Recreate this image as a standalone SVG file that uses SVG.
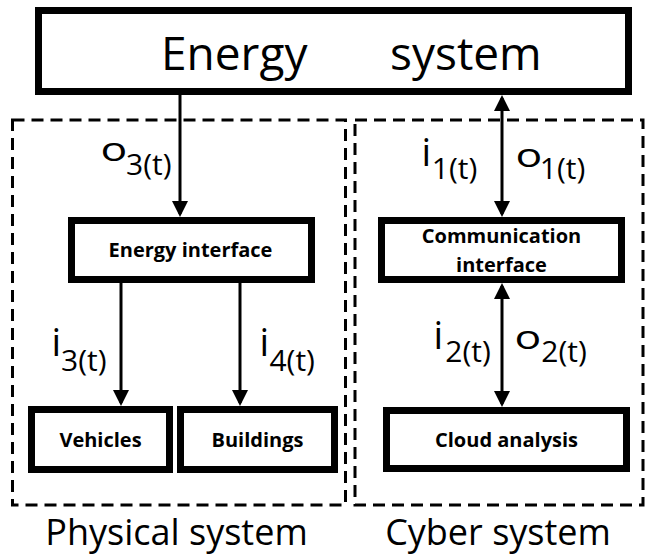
<svg xmlns="http://www.w3.org/2000/svg" width="646" height="555" viewBox="0 0 646 555">
<style>
.box{fill:#fff;stroke:#000;stroke-width:7}
.dash{fill:none;stroke:#000;stroke-width:3;stroke-dasharray:12 7}
.con{stroke:#000;stroke-width:3;fill:none}
.f{font-family:"Open Sans","Liberation Sans",sans-serif;fill:#000}
.big{font-size:46px}
.li{font-size:38px}
.lo{font-size:33px}
.sub{font-size:30px}
.btxt{font-size:20px;font-weight:bold;text-anchor:middle}
.cap{font-size:36px;text-anchor:middle}
</style>
<defs>
<marker id="ah" viewBox="0 0 16 16" refX="13" refY="8" markerWidth="16" markerHeight="16" markerUnits="userSpaceOnUse" orient="auto-start-reverse">
<path d="M0,0 L16,8 L0,16 z" fill="#000"/>
</marker>
</defs>
<g id="physical-system">
<rect class="dash" x="12.5" y="120" width="333" height="385"/>
<text class="f cap" x="176.5" y="545">Physical system</text>
</g>
<g id="cyber-system">
<rect class="dash" x="355" y="120" width="288" height="385"/>
<text class="f cap" x="498" y="545">Cyber system</text>
</g>
<g id="energy-system">
<rect class="box" x="38.5" y="10.5" width="590" height="81"/>
<text class="f big" y="70"><tspan x="161">Energy</tspan><tspan x="390">system</tspan></text>
</g>
<g id="energy-interface">
<rect class="box" x="71.5" y="220.5" width="240" height="59"/>
<text class="f btxt" x="190.5" y="257">Energy interface</text>
</g>
<g id="communication-interface">
<rect class="box" x="381.5" y="220.5" width="240" height="59"/>
<text class="f btxt" x="501.5" y="243">Communication</text>
<text class="f btxt" x="501.5" y="272">interface</text>
</g>
<g id="vehicles">
<rect class="box" x="31.5" y="409.5" width="138" height="60"/>
<text class="f btxt" x="100.5" y="447">Vehicles</text>
</g>
<g id="buildings">
<rect class="box" x="180.5" y="409.5" width="154" height="60"/>
<text class="f btxt" x="257.5" y="447">Buildings</text>
</g>
<g id="cloud-analysis">
<rect class="box" x="386.5" y="410.5" width="240" height="58"/>
<text class="f btxt" x="506.5" y="447">Cloud analysis</text>
</g>
<g id="connectors">
<line class="con" x1="180" y1="95" x2="180" y2="214" marker-end="url(#ah)"/>
<line class="con" x1="121" y1="283" x2="121" y2="403" marker-end="url(#ah)"/>
<line class="con" x1="240" y1="283" x2="240" y2="403" marker-end="url(#ah)"/>
<line class="con" x1="502" y1="98" x2="502" y2="214" marker-start="url(#ah)" marker-end="url(#ah)"/>
<line class="con" x1="502" y1="286" x2="502" y2="404" marker-start="url(#ah)" marker-end="url(#ah)"/>
<g id="lbl-o3"><text class="f lo" transform="translate(100.5,161) scale(1.35,1)">o</text><text class="f sub" x="126" y="175">3(t)</text></g>
<g id="lbl-i1"><text class="f li" x="421.5" y="166">i</text><text class="f sub" x="431.8" y="179">1(t)</text></g>
<g id="lbl-o1"><text class="f lo" transform="translate(515.5,167) scale(1.35,1)">o</text><text class="f sub" x="539.8" y="179">1(t)</text></g>
<g id="lbl-i2"><text class="f li" x="433.5" y="349">i</text><text class="f sub" x="445.3" y="362">2(t)</text></g>
<g id="lbl-o2"><text class="f lo" transform="translate(514.5,349) scale(1.35,1)">o</text><text class="f sub" x="541.3" y="362">2(t)</text></g>
<g id="lbl-i3"><text class="f li" x="51.5" y="356">i</text><text class="f sub" x="61" y="371">3(t)</text></g>
<g id="lbl-i4"><text class="f li" x="259.5" y="356">i</text><text class="f sub" x="269.4" y="371">4(t)</text></g>
</g>
</svg>
